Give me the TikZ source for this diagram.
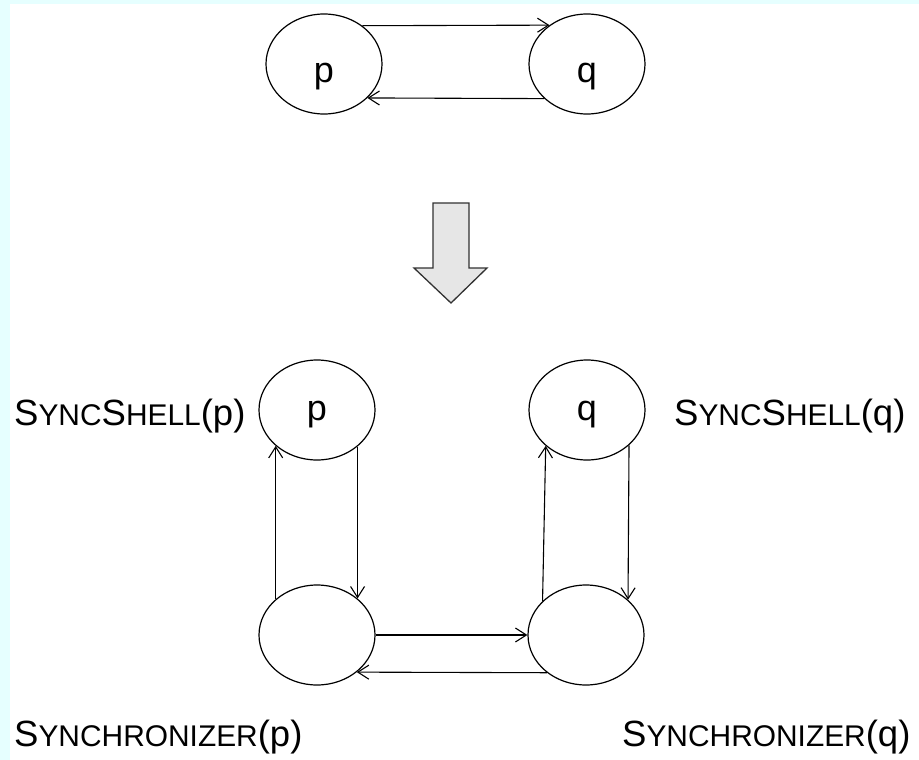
\documentclass[tikz,border=0pt]{standalone}
\usepackage{fontspec}
\setmainfont{Liberation Sans}
\usetikzlibrary{arrows.meta,shapes.geometric}
\definecolor{bgcyan}{RGB}{230,255,255}
\definecolor{fatfill}{RGB}{230,230,230}
\definecolor{fatline}{RGB}{50,50,50}
\newcommand\smcap[1]{{\fontsize{29.9}{30}\selectfont #1}}
\begin{document}
\begin{tikzpicture}[x=1pt,y=-1pt,
  st/.style={ellipse,draw,line width=1.2pt,minimum width=116pt,minimum height=100pt,inner sep=0pt,font=\fontsize{36}{40}\selectfont,text depth=7.6pt},
  topst/.style={st,text height=44pt},
  shst/.style={st,text height=29pt},
  con/.style={line width=1.1pt,-{Straight Barb[length=11pt,width=14pt,line width=1.1pt]}},
  lab/.style={anchor=west,inner sep=0pt,font=\fontsize{36.5}{40}\selectfont}]
\useasboundingbox (0,0) rectangle (919,760);
\fill[white] (0,0) rectangle (919,760);
\fill[bgcyan] (0,0) rectangle (10,760);
\fill[bgcyan] (0,0) rectangle (919,4);

% top
\node[topst] (p) at (324,64) {p};
\node[topst] (q) at (587,64) {q};
\draw[con] (p.45.2) -- (q.134.8);
\draw[con] (q.-141.3) -- (p.-38.7);

% fat arrow
\draw[fill=fatfill,draw=fatline,line width=1.3pt,line join=miter]
  (433,203) -- (469,203) -- (469,268) -- (487,268) -- (451,303) -- (414,268) -- (433,268) -- cycle;

% bottom
\node[shst] (sp) at (317,410) {p};
\node[shst] (sq) at (587,410) {q};
\node[st] (yp) at (317,635) {};
\node[st] (yq) at (586,635) {};

\draw[con] (yp.139.2) -- (sp.-139.2);
\draw[con] (sp.-42.2) -- (yp.42.2);
\draw[con] (yq.142) -- (sq.-139.2);
\draw[con] (sq.-40.8) -- (yq.40.8);
\draw[con] (yp.east) -- (yq.west);
\draw[con] (yq.-136.5) -- (yp.-43.5);

\node[lab] (lsp) at (14,416) {S\smcap{YNC}S\smcap{HELL}(p)};
\node[lab] (lsq) at (674,416) {S\smcap{YNC}S\smcap{HELL}(q)};
\node[lab] (lyp) at (14,737) {S\smcap{YNCHRONIZER}(p)};
\node[lab] (lyq) at (622,737) {S\smcap{YNCHRONIZER}(q)};
\end{tikzpicture}
\end{document}
